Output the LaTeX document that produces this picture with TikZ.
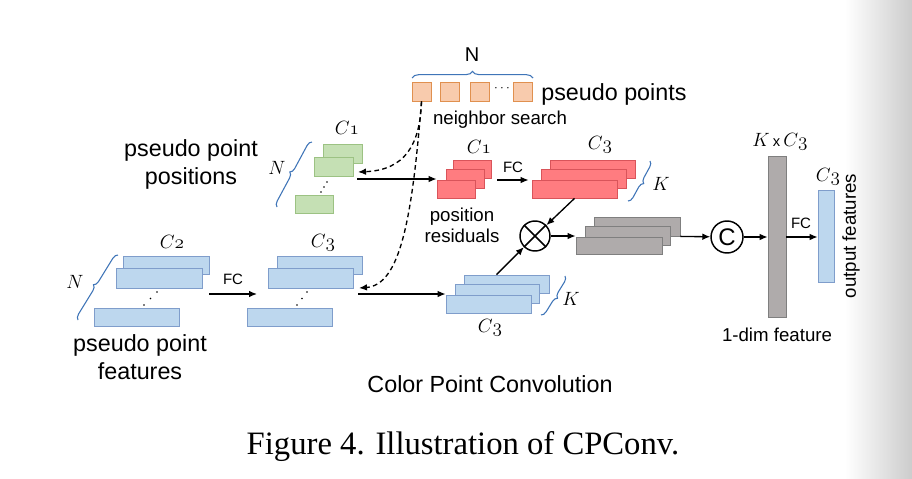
\documentclass[tikz,border=0pt]{standalone}
\usepackage{fontspec}
\setmainfont{Liberation Sans}
\newfontfamily\capfont{Liberation Serif}
\usetikzlibrary{arrows.meta,decorations.pathreplacing,calc}
\definecolor{orfill}{HTML}{F8CBAD}
\definecolor{ordraw}{HTML}{E0904F}
\definecolor{grfill}{HTML}{C5E0B4}
\definecolor{grdraw}{HTML}{9CC283}
\definecolor{rdfill}{HTML}{FF7C80}
\definecolor{rddraw}{HTML}{D9545A}
\definecolor{blfill}{HTML}{BDD7EE}
\definecolor{bldraw}{HTML}{7F9DCB}
\definecolor{gyfill}{HTML}{AFABAB}
\definecolor{gydraw}{HTML}{7F7F7F}
\definecolor{brcol}{HTML}{3F75B8}
\tikzset{
  bx/.style 2 args={rectangle, inner sep=0pt, line width=0.6pt,
    minimum width={#1*0.75pt}, minimum height={#2*0.75pt}},
  orbox/.style={fill=orfill, draw=ordraw},
  grbox/.style={fill=grfill, draw=grdraw},
  rdbox/.style={fill=rdfill, draw=rddraw},
  blbox/.style={fill=blfill, draw=bldraw},
  gybox/.style={fill=gyfill, draw=gydraw},
  arr/.style={-{Latex[length=6pt,width=5pt]}, line width=1pt},
  dsh/.style={arr, dash pattern=on 3.5pt off 2.5pt},
  brc/.style={decorate, decoration={brace, amplitude=#1}, draw=brcol, line width=0.8pt},
  brc/.default=4pt,
  bigtxt/.style={font=\fontsize{17.5}{21}\selectfont, align=center, inner sep=0pt},
  midtxt/.style={font=\fontsize{14}{16}\selectfont, align=center, inner sep=0pt},
  fctxt/.style={font=\fontsize{11.25}{13}\selectfont, inner sep=0pt},
  mtxt/.style={font=\fontsize{14}{16}\selectfont, inner sep=0pt},
  dotn/.style={circle, fill=black, inner sep=0pt, minimum size=1.3pt},
  ring/.style={circle, draw, line width=1.1pt, inner sep=0pt, fill=white},
}
\begin{document}
\begin{tikzpicture}[x=0.75pt, y=-0.75pt]
\useasboundingbox (0,0) rectangle (912,478);
\fill[white] (0,0) rectangle (912,478);
\shade[left color=white, right color=black!20] (845,0) rectangle (912,478);

% ---- pseudo points (top)
\node[bx={19}{19}, orbox] (o1) at (421.5,91.5) {};
\node[bx={19}{19}, orbox] (o2) at (449.5,91.5) {};
\node[bx={19}{19}, orbox] (o3) at (479.5,91.5) {};
\node[bx={19}{19}, orbox] (o4) at (522.5,91.5) {};
\node[font=\fontsize{10}{10}\selectfont, inner sep=0pt] (odots) at (502,89) {$\cdots$};
\draw[brc=5pt] (412,78) -- (533,78);
\node[font=\fontsize{15}{15}\selectfont, inner sep=0pt] (ntop) at (472,55) {N};
\node[bigtxt, anchor=base west] (pp) at (541,100) {pseudo points};
\node[midtxt, anchor=base] (ns) at (500,124) {neighbor search};

% ---- pseudo point positions (green)
\node[bx={39}{19}, grbox] (g1) at (342.5,153.5) {};
\node[bx={39}{19}, grbox] (g2) at (333.5,166.5) {};
\node[bx={38}{18}, grbox] (g3) at (314,204) {};
\node[dotn] (gd1) at (327,182) {};
\node[dotn] (gd2) at (324,187) {};
\node[dotn] (gd3) at (321,192) {};
\node[mtxt] (gc1) at (347,128) {$\mathnormal{C1}$};
\draw[brc] (277,207) -- (312,142);
\node[mtxt] (gn) at (277,168) {$N$};
\node[bigtxt] (ppp) at (191,164) {pseudo point\\positions};

% ---- position residuals (red)
\node[bx={38}{18}, rdbox] (r1) at (472,169) {};
\node[bx={38}{19}, rdbox] (r2) at (465,178.5) {};
\node[bx={38}{18}, rdbox] (r3) at (456,189) {};
\node[mtxt] (rc1) at (479,147) {$\mathnormal{C1}$};
\node[midtxt] (pr) at (462,225) {position\\residuals};
\node[bx={85}{18}, rdbox] (R1) at (592.5,169) {};
\node[bx={85}{19}, rdbox] (R2) at (583.5,178.5) {};
\node[bx={85}{18}, rdbox] (R3) at (574.5,189) {};
\node[mtxt] (Rc3) at (600,145) {$\mathnormal{C3}$};
\draw[brc] (650,161) -- (628,201);
\node[mtxt] (Rk) at (661,184) {$K$};

\coordinate (ga) at (357,179);
\draw[arr] (ga) -- (ga -| r3.west);
\coordinate (fa) at (497,180);
\draw[arr] (fa) -- ($(fa -| R3.west)+(-3,0)$);
\node[fctxt] (fc1) at (513,167) {FC};

% ---- left features (blue)
\node[bx={86}{18}, blbox] (L1) at (166,265) {};
\node[bx={86}{20}, blbox] (L2) at (159,278) {};
\node[bx={85}{18}, blbox] (L3) at (136.5,317) {};
\node[dotn] (ld1) at (157,292) {};
\node[dotn] (ld2) at (150.5,298.5) {};
\node[dotn] (ld3) at (144,305) {};
\node[mtxt] (lc2) at (172,242) {$\mathnormal{C2}$};
\draw[brc] (78,320) -- (118,255);
\node[mtxt] (ln) at (75,282) {$N$};
\node[bigtxt] (ppf) at (140,357) {pseudo point\\features};

\coordinate (la) at (209,294);
\draw[arr] (la) -- ($(la)+(48,0)$);
\node[fctxt] (fc0) at (233,279) {FC};

\node[bx={85}{18}, blbox] (M1) at (319.5,265) {};
\node[bx={85}{20}, blbox] (M2) at (310.5,278) {};
\node[bx={85}{18}, blbox] (M3) at (289.5,317) {};
\node[dotn] (md1) at (307,292) {};
\node[dotn] (md2) at (302,298.5) {};
\node[dotn] (md3) at (297,305) {};
\node[mtxt] (mc3) at (323,243) {$\mathnormal{C3}$};

% ---- grouped blue (K)
\node[bx={85}{18}, blbox] (B1) at (506.5,284) {};
\node[bx={84}{19}, blbox] (B2) at (497,293.5) {};
\node[bx={85}{18}, blbox] (B3) at (488.5,304) {};
\draw[brc] (565,276) -- (541,315);
\node[mtxt] (bk) at (571,299) {$K$};
\node[mtxt] (bc3) at (490,328) {$\mathnormal{C3}$};
\coordinate (ba) at (358,294);
\draw[arr] (ba) -- (ba -| B3.west);

% ---- dashed neighbor-search arrows
\coordinate (gtip) at (358,172);
\coordinate (btip) at (359,288);
\draw[dsh] (o1.south) .. controls (420,145) and (405,170) .. (gtip);
\draw[dsh] (o1.south) .. controls (412,220) and (400,285) .. (btip);

% ---- multiply
\node[ring, minimum size={30*0.75pt}] (X) at (535,236) {};
\draw[line width=1.1pt] (X.north west) -- (X.south east) (X.north east) -- (X.south west);
\draw[arr] (R3.south) -- (X);
\draw[arr] ($(B1.north)+(-10,0)$) -- (X);

% ---- gray stack
\node[bx={86}{19}, gybox] (G1) at (637,226.5) {};
\node[bx={85}{19}, gybox] (G2) at (627.5,235.5) {};
\node[bx={86}{17}, gybox] (G3) at (619,245.5) {};
\draw[arr] (X) -- (X -| G3.west);

% ---- concat and 1-dim feature
\node[ring, minimum size={32*0.75pt}, font=\fontsize{18}{18}\selectfont] (Cc) at (727,237) {C};
\draw[arr] (G1.south east) -- (Cc);
\node[bx={18}{161}, gybox] (bar) at (777,236.5) {};
\draw[arr] (Cc) -- (Cc -| bar.west);
\node[mtxt] (kc) at (780,142) {$K$\,{\fontsize{11}{11}\selectfont x}\,$\mathnormal{C3}$};
\node[midtxt] (od) at (777,335) {1-dim feature};
\node[bx={16}{92}, blbox] (out) at (826,236) {};
\draw[arr] (bar.east |- Cc) -- (out.west |- Cc);
\node[fctxt] (fc2) at (801,223) {FC};
\node[mtxt] (oc3) at (828,177) {$\mathnormal{C3}$};
\node[midtxt, rotate=90] (of) at (851,236) {output features};

% ---- titles
\node[bigtxt] (cpc) at (490,384) {Color Point Convolution};
\node[font=\capfont\fontsize{24.5}{26}\selectfont, inner sep=0pt] (cap) at (463,447) {Figure 4. Illustration of CPConv.};
\end{tikzpicture}
\end{document}
